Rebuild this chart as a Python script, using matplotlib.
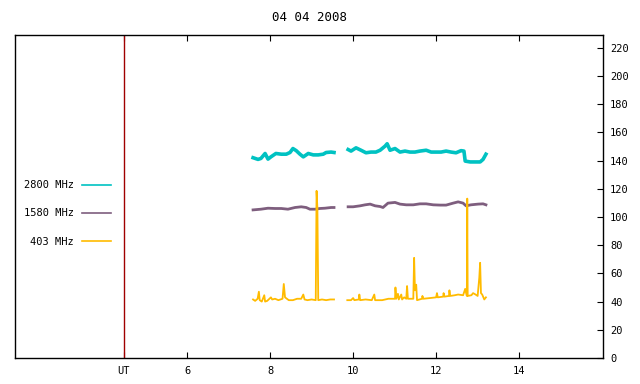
import matplotlib
matplotlib.use('Agg')
import matplotlib.pyplot as plt

plt.rcParams['font.family'] = 'DejaVu Sans Mono'
plt.rcParams['font.size'] = 7.5

# 2800 MHz flux (two runs)
t_2800_a = [7.59, 7.71, 7.78, 7.88, 7.95, 8.02, 8.14, 8.27, 8.39, 8.48, 8.55,
            8.63, 8.72, 8.80, 8.92, 9.04, 9.16, 9.28, 9.35, 9.47, 9.54]
f_2800_a = [142, 140.8, 141.5, 145, 141, 142.6, 145, 144.5, 144.5, 145.7, 148.5,
            147, 144.5, 142.6, 145, 144, 144, 144.5, 145.7, 146, 145.7]
t_2800_b = [9.88, 9.95, 10.07, 10.19, 10.31, 10.43, 10.55, 10.65, 10.77, 10.82,
            10.89, 11.01, 11.13, 11.25, 11.37, 11.49, 11.61, 11.76, 11.88, 12.00,
            12.12, 12.24, 12.36, 12.48, 12.60, 12.67, 12.70, 12.82, 12.94, 13.06,
            13.13, 13.20]
f_2800_b = [147.8, 146.7, 149, 147.3, 145.5, 146, 146, 147.3, 150.2, 151.9,
            147.3, 148.5, 146, 146.7, 146, 146, 146.7, 147.3, 146, 146,
            146, 146.7, 146, 145.5, 147, 146.7, 139.6, 139, 139, 139,
            140.8, 144.5]

# 1580 MHz flux
t_1580_a = [7.59, 7.78, 7.95, 8.12, 8.27, 8.43, 8.60, 8.75, 8.87, 8.96, 9.08,
            9.20, 9.32, 9.47, 9.54]
f_1580_a = [105, 105.5, 106.2, 106, 106, 105.5, 106.7, 107.2, 106.7, 105.5, 105.5,
            106, 106.2, 106.7, 106.7]
t_1580_b = [9.88, 10.00, 10.17, 10.29, 10.41, 10.53, 10.65, 10.72, 10.84, 11.01,
            11.13, 11.28, 11.45, 11.61, 11.76, 11.93, 12.10, 12.24, 12.41, 12.53,
            12.65, 12.72, 12.84, 13.01, 13.13, 13.20]
f_1580_b = [107.2, 107.2, 107.9, 108.6, 109.1, 107.9, 107.4, 106.7, 109.8, 110.3,
            109.1, 108.6, 108.6, 109.3, 109.3, 108.6, 108.4, 108.4, 109.8, 110.7,
            109.8, 107.9, 108.6, 109.1, 109.3, 108.6]

# 403 MHz flux
t_403_a = [7.59, 7.64, 7.70, 7.73, 7.75, 7.80, 7.86, 7.88, 7.93, 8.02, 8.05,
           8.12, 8.20, 8.30, 8.33, 8.36, 8.45, 8.55, 8.65, 8.75, 8.80, 8.83,
           8.90, 9.00, 9.10, 9.12, 9.14, 9.16, 9.25, 9.35, 9.45, 9.54]
f_403_a = [41.5, 40.5, 42, 47, 41, 40, 44.5, 40, 40.5, 43, 41.5,
           42, 41, 42, 52.5, 43, 41, 41, 42, 42, 45, 41.5,
           41, 41.5, 41, 118.5, 106, 41, 41.5, 41, 41.5, 41.5]
t_403_b = [9.86, 9.95, 10.00, 10.03, 10.14, 10.15, 10.17, 10.30, 10.45, 10.51,
           10.53, 10.70, 10.85, 11.01, 11.02, 11.04, 11.08, 11.10, 11.16, 11.18,
           11.23, 11.28, 11.30, 11.32, 11.45, 11.47, 11.49, 11.52, 11.54, 11.66,
           11.67, 11.69, 11.85, 12.00, 12.02, 12.04, 12.17, 12.18, 12.20, 12.31,
           12.32, 12.34, 12.45, 12.53, 12.65, 12.70, 12.74, 12.75, 12.76, 12.85,
           12.89, 12.95, 13.00, 13.04, 13.06, 13.08, 13.11, 13.16, 13.20]
f_403_b = [41, 41, 42.5, 41, 41.5, 45, 41, 41.5, 41, 45,
           41, 41, 42, 42, 50, 42, 45.5, 41.5, 45, 41.5,
           43, 42, 51, 42, 42, 71, 48, 52, 41, 42,
           44, 42, 42.5, 43, 46, 43, 43.5, 46, 43.5, 44,
           48, 44, 44.5, 45, 44.5, 49, 44, 113, 44, 44.5,
           46, 45, 44, 57, 67.5, 46, 45, 41.5, 43]

ut_mark = 4.48
x_ticks = [ut_mark, 6, 8, 10, 12, 14]
x_labels = ['UT', '6', '8', '10', '12', '14']
y_ticks = list(range(0, 221, 20))

c2800 = '#00c2c2'
c1580 = '#7e5e7e'
c403 = '#ffbb00'

fig = plt.figure(figsize=(6.4, 3.84), dpi=100)
ax = fig.add_axes([15/640, 26/384, 588/640, 323/384])

l1, = ax.plot(t_2800_a, f_2800_a, color=c2800, lw=2.6, label='2800 MHz')
ax.plot(t_2800_b, f_2800_b, color=c2800, lw=2.6)
l2, = ax.plot(t_1580_a, f_1580_a, color=c1580, lw=2.0, label='1580 MHz')
ax.plot(t_1580_b, f_1580_b, color=c1580, lw=2.0)
l3, = ax.plot(t_403_a, f_403_a, color=c403, lw=1.3, label='403 MHz')
ax.plot(t_403_b, f_403_b, color=c403, lw=1.3)

ax.axvline(ut_mark, color='#a00000', lw=1.0)

ax.set_xlim(1.855, 16.02)
ax.set_ylim(0, 229)
ax.set_xticks(x_ticks)
ax.set_xticklabels(x_labels)
ax.set_yticks(y_ticks)
ax.yaxis.tick_right()
ax.tick_params(axis='x', direction='in', top=True, bottom=True, length=4, pad=6)
ax.tick_params(axis='y', direction='in', left=False, right=True, length=4, pad=5)
for s in ax.spines.values():
    s.set_linewidth(1.0)

ax.set_title('04 04 2008', pad=10)

ax.legend(handles=[l1, l2, l3], markerfirst=False, frameon=False,
          loc='upper left', bbox_to_anchor=(19/640, 1 - 175/384),
          bbox_transform=fig.transFigure, handlelength=2.8,
          handletextpad=0.7, labelspacing=1.75, borderpad=0)
for h in ax.get_legend().get_lines():
    h.set_linewidth(1.2)

fig.savefig('out.png', dpi=100)
